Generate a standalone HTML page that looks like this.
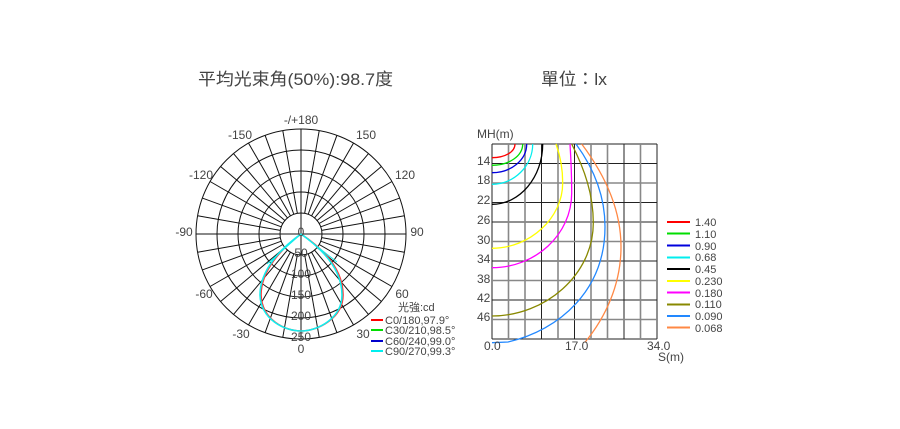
<!DOCTYPE html>
<html><head><meta charset="utf-8"><style>
html,body{margin:0;padding:0;background:#fff}
svg text{font-family:"Liberation Sans","Noto Sans CJK TC",sans-serif;fill:#444}
</style></head><body>
<svg width="900" height="424" viewBox="0 0 900 424" xmlns="http://www.w3.org/2000/svg">
<text x="198" y="85" font-size="17" textLength="195" lengthAdjust="spacingAndGlyphs">平均光束角(50%):98.7度</text>
<text x="541" y="85" font-size="17" textLength="66" lengthAdjust="spacingAndGlyphs">單位：lx</text>
<g stroke="#111" stroke-width="1" fill="none">
<circle cx="301" cy="234" r="21"/><circle cx="301" cy="234" r="42"/><circle cx="301" cy="234" r="63"/><circle cx="301" cy="234" r="84"/><circle cx="301" cy="234" r="105"/>
<line x1="301" y1="129" x2="301" y2="339"/><line x1="196" y1="234" x2="406" y2="234"/>
</g>
<g stroke="#111" stroke-width="1">
<line x1="322" y1="234" x2="406" y2="234" transform="rotate(10 301 234)"/>
<line x1="322" y1="234" x2="406" y2="234" transform="rotate(20 301 234)"/>
<line x1="322" y1="234" x2="406" y2="234" transform="rotate(30 301 234)"/>
<line x1="322" y1="234" x2="406" y2="234" transform="rotate(40 301 234)"/>
<line x1="322" y1="234" x2="406" y2="234" transform="rotate(50 301 234)"/>
<line x1="322" y1="234" x2="406" y2="234" transform="rotate(60 301 234)"/>
<line x1="322" y1="234" x2="406" y2="234" transform="rotate(70 301 234)"/>
<line x1="322" y1="234" x2="406" y2="234" transform="rotate(80 301 234)"/>
<line x1="322" y1="234" x2="406" y2="234" transform="rotate(100 301 234)"/>
<line x1="322" y1="234" x2="406" y2="234" transform="rotate(110 301 234)"/>
<line x1="322" y1="234" x2="406" y2="234" transform="rotate(120 301 234)"/>
<line x1="322" y1="234" x2="406" y2="234" transform="rotate(130 301 234)"/>
<line x1="322" y1="234" x2="406" y2="234" transform="rotate(140 301 234)"/>
<line x1="322" y1="234" x2="406" y2="234" transform="rotate(150 301 234)"/>
<line x1="322" y1="234" x2="406" y2="234" transform="rotate(160 301 234)"/>
<line x1="322" y1="234" x2="406" y2="234" transform="rotate(170 301 234)"/>
<line x1="322" y1="234" x2="406" y2="234" transform="rotate(190 301 234)"/>
<line x1="322" y1="234" x2="406" y2="234" transform="rotate(200 301 234)"/>
<line x1="322" y1="234" x2="406" y2="234" transform="rotate(210 301 234)"/>
<line x1="322" y1="234" x2="406" y2="234" transform="rotate(220 301 234)"/>
<line x1="322" y1="234" x2="406" y2="234" transform="rotate(230 301 234)"/>
<line x1="322" y1="234" x2="406" y2="234" transform="rotate(240 301 234)"/>
<line x1="322" y1="234" x2="406" y2="234" transform="rotate(250 301 234)"/>
<line x1="322" y1="234" x2="406" y2="234" transform="rotate(260 301 234)"/>
<line x1="322" y1="234" x2="406" y2="234" transform="rotate(280 301 234)"/>
<line x1="322" y1="234" x2="406" y2="234" transform="rotate(290 301 234)"/>
<line x1="322" y1="234" x2="406" y2="234" transform="rotate(300 301 234)"/>
<line x1="322" y1="234" x2="406" y2="234" transform="rotate(310 301 234)"/>
<line x1="322" y1="234" x2="406" y2="234" transform="rotate(320 301 234)"/>
<line x1="322" y1="234" x2="406" y2="234" transform="rotate(330 301 234)"/>
<line x1="322" y1="234" x2="406" y2="234" transform="rotate(340 301 234)"/>
<line x1="322" y1="234" x2="406" y2="234" transform="rotate(350 301 234)"/>
</g>
<g fill="none" stroke-width="1.6">
<path d="M301,234 C282,248 261,270 261,295 C262,320 285,331 301,331 C318,331 343,318 343,295 C343,268 322,248 301,234" stroke="#f33"/>
<path d="M301,234 C281,248 260,270 260,295 C261,320 285,331 301,331 C318,331 342,318 342,295 C342,268 321,248 301,234" stroke="#1ee"/>
<path d="M301,234 L267,264 M301,234 L337,262" stroke="#1ee" stroke-width="1"/>
</g>
<g font-size="12" text-anchor="middle">
<text x="301" y="124">-/+180</text><text x="240" y="139">-150</text><text x="366" y="139">150</text>
<text x="201" y="179">-120</text><text x="405" y="179">120</text>
<text x="184" y="236">-90</text><text x="417" y="236">90</text>
<text x="204" y="298">-60</text><text x="402" y="298">60</text>
<text x="241" y="338">-30</text><text x="363" y="338">30</text>
<text x="301" y="236">0</text><text x="301" y="257">50</text><text x="301" y="278">100</text>
<text x="301" y="299">150</text><text x="301" y="320">200</text><text x="301" y="341">250</text>
<text x="301" y="353">0</text>
</g>
<g font-size="11">
<text x="398" y="311">光強:cd</text>
<text x="385" y="324">C0/180,97.9°</text><text x="385" y="334">C30/210,98.5°</text>
<text x="385" y="345">C60/240,99.0°</text><text x="385" y="355">C90/270,99.3°</text>
</g>
<g stroke-width="2">
<line x1="371" y1="320" x2="383" y2="320" stroke="#f00"/><line x1="371" y1="330" x2="383" y2="330" stroke="#0d0"/>
<line x1="371" y1="341" x2="383" y2="341" stroke="#00c"/><line x1="371" y1="351" x2="383" y2="351" stroke="#0ee"/>
</g>
<g stroke="#222" stroke-width="1">
<line x1="492" y1="144" x2="492" y2="339"/><line x1="541.5" y1="144" x2="541.5" y2="339"/><line x1="574.5" y1="144" x2="574.5" y2="339"/><line x1="624" y1="144" x2="624" y2="339"/><line x1="657" y1="144" x2="657" y2="339"/>
<line x1="492" y1="144" x2="657" y2="144"/><line x1="492" y1="163.5" x2="657" y2="163.5"/><line x1="492" y1="202.5" x2="657" y2="202.5"/><line x1="492" y1="222" x2="657" y2="222"/><line x1="492" y1="261" x2="657" y2="261"/><line x1="492" y1="300" x2="657" y2="300"/><line x1="492" y1="339" x2="657" y2="339"/>
</g>
<g stroke="#888" stroke-width="1.6">
<line x1="508.5" y1="144" x2="508.5" y2="339"/><line x1="525" y1="144" x2="525" y2="339"/><line x1="558" y1="144" x2="558" y2="339"/><line x1="591" y1="144" x2="591" y2="339"/><line x1="607.5" y1="144" x2="607.5" y2="339"/><line x1="640.5" y1="144" x2="640.5" y2="339"/>
<line x1="492" y1="183" x2="657" y2="183"/><line x1="492" y1="241.5" x2="657" y2="241.5"/><line x1="492" y1="280.5" x2="657" y2="280.5"/><line x1="492" y1="319.5" x2="657" y2="319.5"/>
</g>
<g fill="none" stroke-width="1.3">
<path d="M515,144 C515,152 505,157.7 492,157.7" stroke="#f00"/>
<path d="M522.7,144 C522.7,156 509,165.3 492,165.3" stroke="#0d0"/>
<path d="M526.7,144 C526.7,160 511,172.7 492,172.7" stroke="#00d"/>
<path d="M532.7,144 C532.7,166 514,184.3 492,184.3" stroke="#0ee"/>
<path d="M542.7,144 C542.7,177 520,204.3 492,204.3" stroke="#000"/>
<path d="M556,144 C560,155 562.7,168 562.7,183 C562.7,218 530,248.3 492,248.3" stroke="#ff0"/>
<path d="M570,144 C571,160 571.7,176 571.7,193 C571.7,235 535,267.7 492,267.7" stroke="#f0f"/>
<path d="M571.7,144 C585,170 593.3,195 593.3,223 C593.3,275 545,316 492,316" stroke="#880"/>
<path d="M576,144 C595,170 605,198 605,226.7 C605,290 560,330 508,342 L492,342.7" stroke="#28f"/>
<path d="M581.7,144 C605,175 621,210 621,246.7 C621,285 605,318 585,342.3" stroke="#f84"/>
</g>
<g font-size="12">
<text x="477" y="138">MH(m)</text>
<text x="477" y="165">14</text><text x="477" y="184">18</text><text x="477" y="204">22</text>
<text x="477" y="224">26</text><text x="477" y="244">30</text><text x="477" y="263">34</text>
<text x="477" y="283">38</text><text x="477" y="302">42</text><text x="477" y="321">46</text>
<text x="484" y="350">0.0</text><text x="565" y="350">17.0</text><text x="647" y="350">34.0</text>
<text x="658" y="361">S(m)</text>
</g>
<g font-size="11">
<text x="695" y="226">1.40</text><text x="695" y="238">1.10</text><text x="695" y="250">0.90</text>
<text x="695" y="261">0.68</text><text x="695" y="273">0.45</text><text x="695" y="285">0.230</text>
<text x="695" y="297">0.180</text><text x="695" y="308">0.110</text><text x="695" y="320">0.090</text>
<text x="695" y="332">0.068</text>
</g>
<g stroke-width="2">
<line x1="667" x2="690" y1="222" y2="222" stroke="#f00"/><line x1="667" x2="690" y1="233.5" y2="233.5" stroke="#0d0"/>
<line x1="667" x2="690" y1="245.5" y2="245.5" stroke="#00d"/><line x1="667" x2="690" y1="257.5" y2="257.5" stroke="#0ee"/>
<line x1="667" x2="690" y1="269" y2="269" stroke="#000"/><line x1="667" x2="690" y1="281" y2="281" stroke="#ff0"/>
<line x1="667" x2="690" y1="292.5" y2="292.5" stroke="#f0f"/><line x1="667" x2="690" y1="304.5" y2="304.5" stroke="#880"/>
<line x1="667" x2="690" y1="316" y2="316" stroke="#28f"/><line x1="667" x2="690" y1="327.5" y2="327.5" stroke="#f84"/>
</g>
</svg>
</body></html>
